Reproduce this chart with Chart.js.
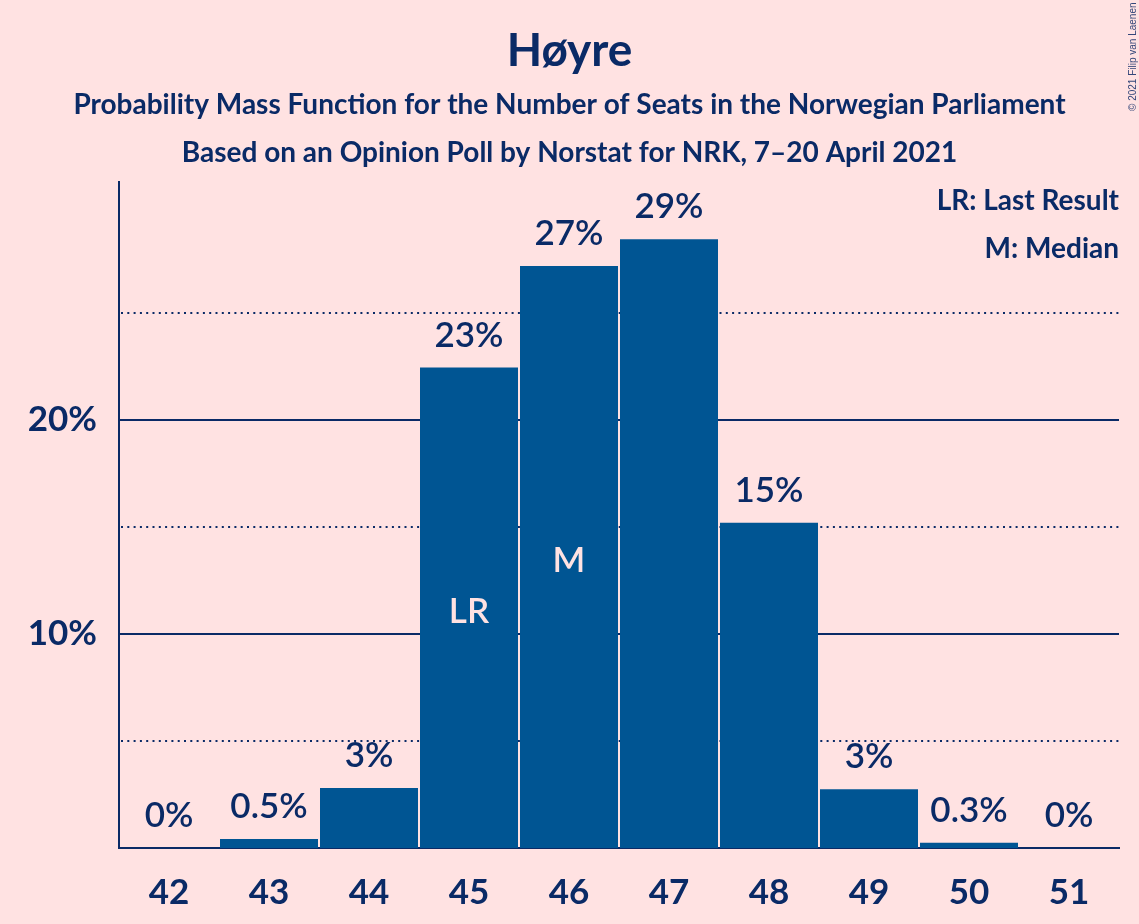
<!DOCTYPE html>
<html>
<head>
<meta charset="utf-8">
<script src="https://cdn.jsdelivr.net/npm/chart.js@4/dist/chart.umd.min.js"></script>
<style>
    html, body { margin: 0; padding: 0; background: #ffe2e2; }
    #wrap { width: 1139px; height: 924px; position: relative; }
</style>
</head>
<body>
<div id="wrap"><canvas id="pmfChart"></canvas></div>
<script>
// seats and probabilities (in %)
const seats = ['42', '43', '44', '45', '46', '47', '48', '49', '50', '51'];
const probabilities = [0, 0.42, 2.8, 22.45, 27.2, 28.45, 15.2, 2.75, 0.25, 0];
const valueLabels = ['0%', '0.5%', '3%', '23%', '27%', '29%', '15%', '3%', '0.3%', '0%'];
const solidTicks = [10, 20];
const dottedTicks = [5, 15, 25];
const lastResultSeat = '45';
const medianSeat = '46';

const titleText = 'Høyre';
const subtitleLines = [
    'Probability Mass Function for the Number of Seats in the Norwegian Parliament',
    'Based on an Opinion Poll by Norstat for NRK, 7–20 April 2021'
];
const legendLines = ['LR: Last Result', 'M: Median'];
const copyrightText = '© 2021 Filip van Laenen';

const navy = '#0a2a66';
const barColor = '#005593';
const bgColor = '#ffe2e2';

const decorations = {
    id: 'decorations',
    beforeDraw(chart) {
        const ctx = chart.ctx;
        ctx.save();
        ctx.fillStyle = bgColor;
        ctx.fillRect(0, 0, chart.width, chart.height);
        ctx.restore();
    },
    beforeDatasetsDraw(chart) {
        // dotted half-step gridlines
        const { ctx, chartArea, scales } = chart;
        ctx.save();
        ctx.strokeStyle = navy;
        ctx.lineWidth = 2;
        ctx.setLineDash([2, 4.3]);
        dottedTicks.forEach(v => {
            const y = Math.round(scales.y.getPixelForValue(v));
            ctx.beginPath();
            ctx.moveTo(chartArea.left + 2, y);
            ctx.lineTo(chartArea.right, y);
            ctx.stroke();
        });
        ctx.restore();
    },
    afterDatasetsDraw(chart) {
        const ctx = chart.ctx;
        const meta = chart.getDatasetMeta(0);
        ctx.save();
        ctx.textAlign = 'center';
        ctx.textBaseline = 'alphabetic';
        meta.data.forEach((bar, i) => {
            ctx.fillStyle = navy;
            ctx.font = '600 35px Lato';
            ctx.fillText(valueLabels[i], bar.x, bar.y - 21);

            let mark = '';
            if (seats[i] === lastResultSeat) mark = 'LR';
            if (seats[i] === medianSeat) mark = 'M';
            if (mark) {
                ctx.fillStyle = bgColor;
                ctx.fillText(mark, bar.x, (bar.y + bar.base) / 2 + 15);
            }
        });
        ctx.restore();
    },
    afterDraw(chart) {
        const ctx = chart.ctx;
        const cx = chart.width / 2;
        ctx.save();
        ctx.fillStyle = navy;
        ctx.textAlign = 'center';
        ctx.textBaseline = 'alphabetic';
        ctx.font = 'bold 46px Lato';
        ctx.fillText(titleText, cx, 66);
        ctx.font = 'bold 28px Lato';
        ctx.fillText(subtitleLines[0], cx, 114);
        ctx.fillText(subtitleLines[1], cx, 162);

        ctx.textAlign = 'right';
        ctx.font = 'bold 28px Lato';
        ctx.fillText(legendLines[0], chart.chartArea.right, 210);
        ctx.fillText(legendLines[1], chart.chartArea.right, 258);

        // copyright, rotated along the right edge
        ctx.translate(1136, 111);
        ctx.rotate(-Math.PI / 2);
        ctx.textAlign = 'left';
        ctx.font = '10px "Liberation Sans"';
        ctx.fillStyle = '#34477a';
        ctx.fillText(copyrightText, 0, 0);
        ctx.restore();
    }
};

const ctx = document.getElementById('pmfChart').getContext('2d');
const chart = new Chart(ctx, {
    type: 'bar',
    data: {
        labels: seats,
        datasets: [{
            data: probabilities,
            backgroundColor: barColor,
            borderWidth: 0,
            barPercentage: 0.98,
            categoryPercentage: 1
        }]
    },
    options: {
        responsive: true,
        maintainAspectRatio: false,
        animation: false,
        devicePixelRatio: 1,
        layout: { padding: { top: 182, left: 0, right: 20, bottom: 0 } },
        plugins: {
            legend: { display: false },
            title: { display: false },
            tooltip: { enabled: false }
        },
        scales: {
            x: {
                z: 1,
                grid: { display: false, drawTicks: false },
                border: { display: true, color: navy, width: 2 },
                ticks: {
                    color: navy,
                    font: { family: 'Lato', size: 35, weight: 'bold' },
                    padding: 24
                },
                afterFit(scale) { scale.height = 76; }
            },
            y: {
                min: 0,
                max: 31.12,
                grid: { color: navy, lineWidth: 2, drawTicks: false },
                border: { display: true, color: navy, width: 2 },
                afterBuildTicks(scale) {
                    scale.ticks = solidTicks.map(v => ({ value: v }));
                },
                ticks: {
                    color: navy,
                    font: { family: 'Lato', size: 35, weight: 'bold' },
                    padding: 22,
                    callback: v => v + '%'
                },
                afterFit(scale) { scale.width = 119; }
            }
        }
    },
    plugins: [decorations]
});
</script>
</body>
</html>
